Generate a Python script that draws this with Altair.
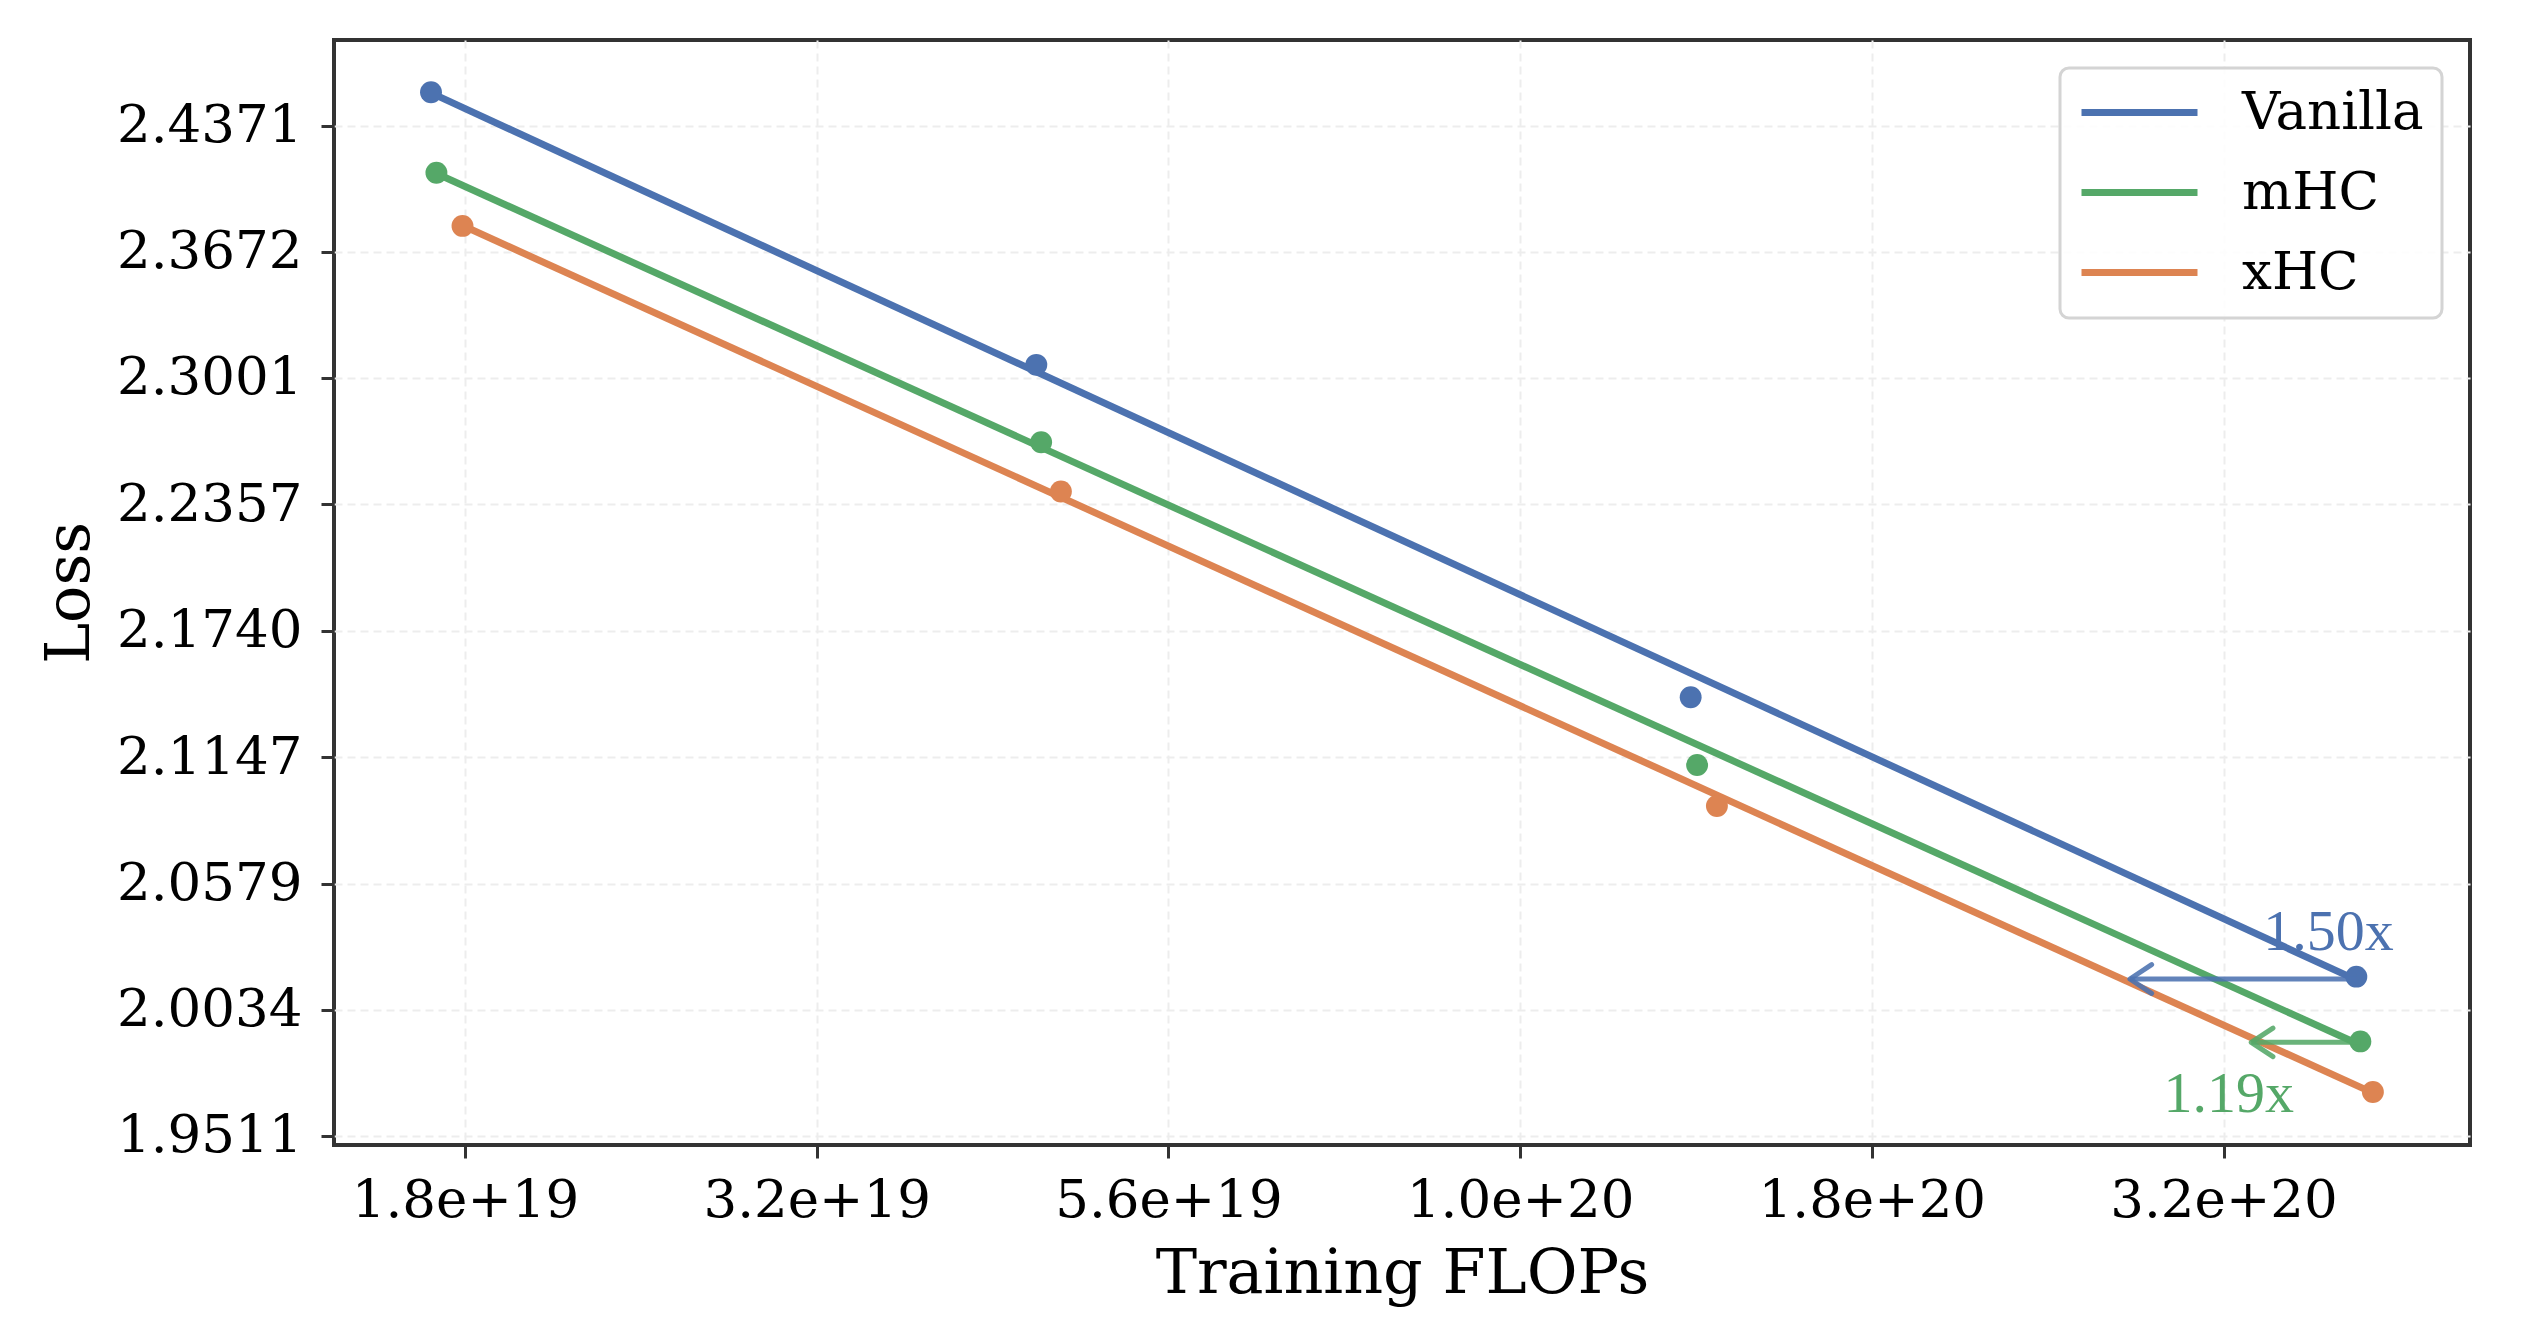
import altair as alt
import pandas as pd

# ---------------- data ----------------
series = ["Vanilla", "mHC", "xHC"]
colors = ["#4C72B0", "#55A868", "#DD8452"]

flops_vanilla = [1.682e19, 4.530e19, 1.322e20, 3.930e20]
loss_vanilla = [2.4563, 2.3069, 2.1425, 2.0175]
flops_mhc = [1.697e19, 4.566e19, 1.336e20, 3.956e20]
loss_mhc = [2.4107, 2.2670, 2.1111, 1.9901]
flops_xhc = [1.771e19, 4.716e19, 1.380e20, 4.038e20]
loss_xhc = [2.3813, 2.2421, 2.0925, 1.9691]

# fitted lines: loss at the first and last compute of each series
fit_vanilla = [2.4559, 2.0161]
fit_mhc = [2.4103, 1.9886]
fit_xhc = [2.3815, 1.9687]

# compute-saving arrows: (start flops, end flops, loss)
arrow_series = ["Vanilla", "mHC"]
arrow_start = [3.930e20, 3.956e20]
arrow_end = [2.713e20, 3.309e20]
arrow_loss = [2.0165, 1.9897]

# annotation labels
note_text = ["1.50x", "1.19x"]
note_flops = [3.755e20, 3.189e20]
note_loss = [2.0290, 1.9610]

x_ticks = [1.7783e19, 3.1623e19, 5.6234e19, 1.0e20, 1.7783e20, 3.1623e20]
y_ticks = [1.9511, 2.0034, 2.0579, 2.1147, 2.1740, 2.2357, 2.3001, 2.3672, 2.4371]
x_domain = [1.4351e19, 4.7336e20]
y_domain = [1.94741, 2.48658]

# ---------------- tables ----------------
cmap = dict(zip(series, colors))
flops_all = [flops_vanilla, flops_mhc, flops_xhc]
loss_all = [loss_vanilla, loss_mhc, loss_xhc]
fit_all = [fit_vanilla, fit_mhc, fit_xhc]

pts = []
fits = []
for s, fx, ly, fy in zip(series, flops_all, loss_all, fit_all):
    for a, b in zip(fx, ly):
        pts.append({"series": s, "flops": a, "loss": b, "hex": cmap[s]})
    fits.append({"series": s, "flops": fx[0], "loss": fy[0]})
    fits.append({"series": s, "flops": fx[-1], "loss": fy[1]})
pts_df = pd.DataFrame(pts)
fit_df = pd.DataFrame(fits)

arr_df = pd.DataFrame({
    "series": arrow_series,
    "flops": arrow_start,
    "flops_end": arrow_end,
    "loss": arrow_loss,
    "hex": [cmap[s] for s in arrow_series],
})
head_df = pd.DataFrame({
    "flops": arrow_end,
    "loss": arrow_loss,
    "hex": [cmap[s] for s in arrow_series],
})
note_df = pd.DataFrame({
    "text": note_text,
    "flops": note_flops,
    "loss": note_loss,
    "hex": [cmap[s] for s in arrow_series],
})

# ---------------- encodings ----------------
xscale = alt.Scale(type="log", domain=x_domain, nice=False)
yscale = alt.Scale(type="pow", exponent=-0.5, domain=y_domain, nice=False, zero=False)

x_enc = alt.X(
    "flops:Q",
    scale=xscale,
    axis=alt.Axis(
        values=x_ticks, format=".1e", title="Training FLOPs",
        labelPadding=16, titleY=147, titleBaseline="alphabetic",
    ),
)
y_enc = alt.Y(
    "loss:Q",
    scale=yscale,
    axis=alt.Axis(
        values=y_ticks, format=".4f", title="Loss",
        labelPadding=19, titleX=-246, titleBaseline="alphabetic", titleAngle=270,
    ),
)

lines = alt.Chart(fit_df).mark_line(strokeWidth=7).encode(
    x=x_enc,
    y=y_enc,
    color=alt.Color(
        "series:N",
        scale=alt.Scale(domain=series, range=colors),
        sort=series,
        legend=alt.Legend(
            title=None, orient="top-right", offset=28,
            symbolType="stroke", symbolSize=13456, symbolStrokeWidth=7,
            clipHeight=53, labelFont="DejaVu Serif", labelFontSize=53,
            labelColor="#000000", labelOffset=41, labelLimit=500,
            rowPadding=26, padding=18, strokeColor="#d4d4d4",
            fillColor="rgba(255,255,255,0.85)", cornerRadius=9,
        ),
    ),
    detail="series:N",
)

points = alt.Chart(pts_df).mark_circle(size=480, opacity=1).encode(
    x=alt.X("flops:Q", scale=xscale),
    y=alt.Y("loss:Q", scale=yscale),
    color=alt.Color("hex:N", scale=None),
)

arrows = alt.Chart(arr_df).mark_rule(strokeWidth=5, opacity=0.88).encode(
    x=alt.X("flops:Q", scale=xscale),
    x2="flops_end:Q",
    y=alt.Y("loss:Q", scale=yscale),
    color=alt.Color("hex:N", scale=None),
)

heads = alt.Chart(head_df).mark_point(
    shape="M1,-0.66L0,0L1,0.66", size=1884, filled=False,
    strokeWidth=5, opacity=0.88, strokeCap="round", strokeJoin="round",
).encode(
    x=alt.X("flops:Q", scale=xscale),
    y=alt.Y("loss:Q", scale=yscale),
    stroke=alt.Stroke("hex:N", scale=None),
)

notes = alt.Chart(note_df).mark_text(
    font="Liberation Serif", fontSize=58, align="center", baseline="alphabetic",
).encode(
    x=alt.X("flops:Q", scale=xscale),
    y=alt.Y("loss:Q", scale=yscale),
    text="text:N",
    color=alt.Color("hex:N", scale=None),
)

chart = (
    alt.layer(lines, points, arrows, heads, notes)
    .properties(
        width=2136,
        height=1105,
        autosize=alt.AutoSizeParams(type="none"),
        padding={"left": 334, "top": 40, "right": 60, "bottom": 185},
        background="white",
    )
    .configure_view(stroke="#333333", strokeWidth=4)
    .configure_axis(
        labelFont="DejaVu Serif", labelFontSize=53, labelColor="#000000",
        labelLimit=500, labelFlush=False, labelOverlap=False,
        titleFont="DejaVu Serif", titleFontSize=62, titleFontWeight="normal",
        titleColor="#000000",
        tickSize=13, tickWidth=3, tickColor="#333333",
        domain=False,
        grid=True, gridColor="#ededed", gridDash=[8, 5], gridWidth=2,
    )
    .configure_legend(strokeWidth=3)
)

chart.save("out.html", embed_options={"renderer": "svg", "actions": False})
